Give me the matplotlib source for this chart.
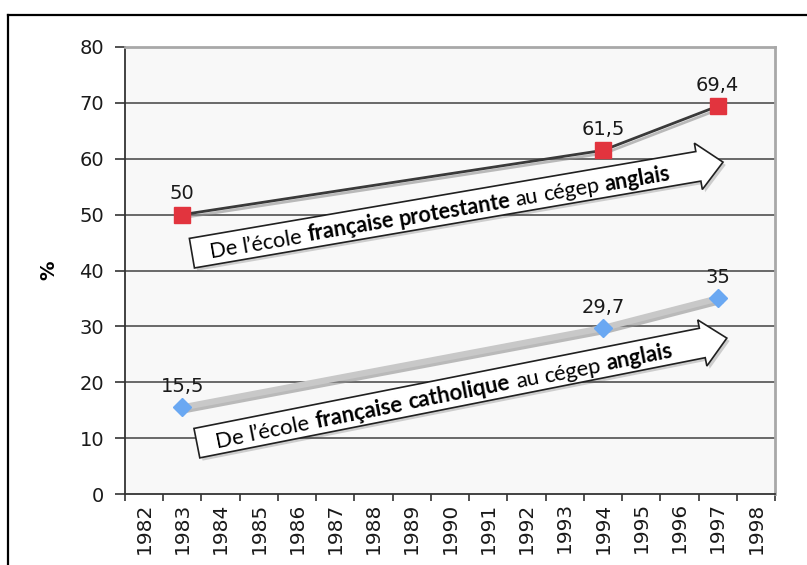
import numpy as np
import matplotlib
matplotlib.use("Agg")
import matplotlib.pyplot as plt
from matplotlib.patches import Polygon
from matplotlib.lines import Line2D
import matplotlib.patheffects as pe

# ---------------- data ----------------
years = list(range(1982, 1999))
year_labels = [str(y) for y in years]
prot_years = [1983, 1994, 1997]
prot_vals = [50, 61.5, 69.4]
prot_labels = ["50", "61,5", "69,4"]
cath_years = [1983, 1994, 1997]
cath_vals = [15.5, 29.7, 35]
cath_labels = ["15,5", "29,7", "35"]
yticks = [0, 10, 20, 30, 40, 50, 60, 70, 80]
ylabel = "%"
prot_text = [("De", "normal"), ("l’école", "normal"), ("française", "bold"),
             ("protestante", "bold"), ("au", "normal"), ("cégep", "normal"),
             ("anglais", "bold")]
cath_text = [("De", "normal"), ("l’école", "normal"), ("française", "bold"),
             ("catholique", "bold"), ("au", "normal"), ("cégep", "normal"),
             ("anglais", "bold")]

W, H, DPI = 807, 565, 100
fig = plt.figure(figsize=(W / DPI, H / DPI), dpi=DPI)
fig.patch.set_facecolor("white")

# outer frame (left and top edges)
fig.add_artist(Line2D([8 / W, 8 / W], [0, (H - 15) / H], color="black", lw=1.6,
                      transform=fig.transFigure))
fig.add_artist(Line2D([8 / W, 1], [(H - 15) / H, (H - 15) / H], color="black", lw=1.6,
                      transform=fig.transFigure))

L, R, T, B = 125, 775, 47, 494
ax = fig.add_axes([L / W, (H - B) / H, (R - L) / W, (B - T) / H])
ax.set_facecolor("#f8f8f8")
ax.set_xlim(-0.5, len(years) - 0.5)
ax.set_ylim(0, 80)

# grid
for v in yticks[1:]:
    ax.axhline(v, color="#505050", lw=1.2, zorder=1)

# ticks
ax.set_yticks(yticks)
ax.set_yticklabels([str(v) for v in yticks], fontsize=14, family="DejaVu Sans",
                   color="#1a1a1a")
ax.tick_params(axis="y", length=7, width=1.2, pad=8, color="#333333")
ax.set_xticks(np.arange(-0.5, len(years), 1.0))
ax.set_xticklabels([])
ax.tick_params(axis="x", which="major", length=5, width=1.2, color="#333333")
ax.set_xticks(np.arange(len(years)), minor=True)
ax.set_xticklabels(year_labels, minor=True, rotation=90, fontsize=14.5,
                   family="DejaVu Sans", color="#1a1a1a")
ax.tick_params(axis="x", which="minor", length=0, pad=6)

for s in ["left", "bottom"]:
    ax.spines[s].set_color("#333333")
    ax.spines[s].set_linewidth(1.3)
for s in ["top", "right"]:
    ax.spines[s].set_color("#a8a8a8")
    ax.spines[s].set_linewidth(2.0)

ax.set_ylabel(ylabel, fontsize=14, fontweight="bold", family="DejaVu Sans")
ax.yaxis.set_label_coords(-0.103, 0.5)

px = [years.index(y) for y in prot_years]
cx = [years.index(y) for y in cath_years]

# ---------------- block arrows ----------------
fig.canvas.draw()
renderer = fig.canvas.get_renderer()


def measure(s, fs, weight):
    t = fig.text(0, 0, s, fontsize=fs, fontweight=weight, family="Lato")
    w = t.get_window_extent(renderer=renderer).width
    t.remove()
    return w


def block_arrow(tail, tip, pieces, shaft=30, head_w=47, head_l=25, target_len=466):
    Tp = ax.transData.transform(tail)
    Pp = ax.transData.transform(tip)
    v = Pp - Tp
    length = np.hypot(*v)
    d = v / length
    n = np.array([-d[1], d[0]])
    Bp = Pp - d * head_l
    verts = [Tp + n * shaft / 2, Bp + n * shaft / 2, Bp + n * head_w / 2, Pp,
             Bp - n * head_w / 2, Bp - n * shaft / 2, Tp - n * shaft / 2]
    verts = ax.transData.inverted().transform(np.array(verts))
    ax.add_patch(Polygon(verts, closed=True, facecolor="white", edgecolor="#202020",
                         lw=1.2, zorder=3,
                         path_effects=[pe.SimplePatchShadow(offset=(2, -2), alpha=0.25),
                                       pe.Normal()]))
    # text
    fs0 = 10
    sp = measure("| |", fs0, "normal") - measure("||", fs0, "normal")
    widths = [measure("|" + s + "|", fs0, w) - measure("||", fs0, w) for s, w in pieces]
    total0 = sum(widths) + sp * (len(pieces) - 1)
    k = target_len / total0
    fs = fs0 * k
    widths = [w * k for w in widths]
    sp *= k
    total = total0 * k
    angle = np.degrees(np.arctan2(d[1], d[0]))
    em = fs * DPI / 72
    C = (Tp + Bp) / 2 - d * 6
    S = C - d * total / 2 - n * 0.38 * em
    cum = 0.0
    for (s, w), wd in zip(pieces, widths):
        pos = ax.transData.inverted().transform(S + d * cum)
        ax.text(pos[0], pos[1], s, fontsize=fs, fontweight=w, family="Lato",
                rotation=angle, rotation_mode="anchor", ha="left", va="baseline",
                color="black", zorder=4)
        cum += wd + sp


block_arrow((1.25, 43.1), (15.14, 59.4), prot_text)
block_arrow((1.38, 9.1), (15.24, 27.9), cath_text)

# ---------------- series ----------------
shadow = [pe.SimpleLineShadow(offset=(1.5, -2), shadow_color="#909090", alpha=0.6),
          pe.Normal()]
ax.plot(px, prot_vals, color="#3a3a3a", lw=2.0, zorder=5, path_effects=shadow)
ax.plot(px, prot_vals, ls="none", marker="s", ms=11, mfc="#e2343e", mec="#e2343e",
        zorder=6)
ax.plot(cx, cath_vals, color="#c8c8c8", lw=4.5, zorder=5, path_effects=shadow)
ax.plot(cx, cath_vals, ls="none", marker="D", ms=9, mfc="#6aa8f2", mec="#6aa8f2",
        zorder=6)

for x, v, lab in zip(px, prot_vals, prot_labels):
    ax.annotate(lab, (x, v), xytext=(0, 11), textcoords="offset points",
                ha="center", va="baseline", fontsize=14, family="DejaVu Sans",
                color="#1a1a1a", zorder=7)
for x, v, lab in zip(cx, cath_vals, cath_labels):
    ax.annotate(lab, (x, v), xytext=(0, 11), textcoords="offset points",
                ha="center", va="baseline", fontsize=14, family="DejaVu Sans",
                color="#1a1a1a", zorder=7)

fig.savefig("out.png", dpi=DPI, facecolor="white")
